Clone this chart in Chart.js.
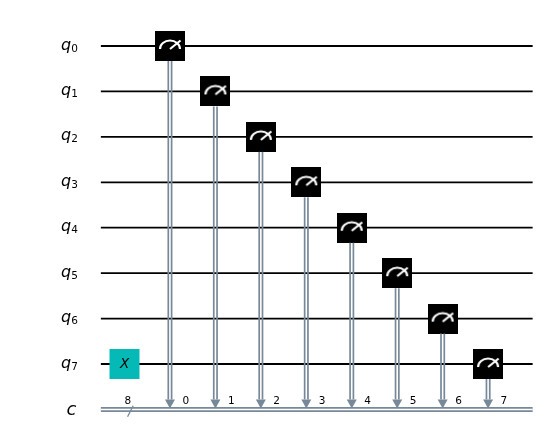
<!DOCTYPE html>
<html>
<head>
<meta charset="utf-8">
<script src="https://cdn.jsdelivr.net/npm/chart.js@4.4.1/dist/chart.umd.min.js"></script>
<style>
  html, body { margin: 0; padding: 0; background: #fff; }
  #wrap { width: 548px; height: 448px; }
</style>
</head>
<body>
<div id="wrap"><canvas id="circuit"></canvas></div>
<script>
// ---- circuit data ----
const QUBITS = ['0', '1', '2', '3', '4', '5', '6', '7'];   // q subscripts, one row each
const CREG_NAME = 'c';
const CREG_SIZE = 8;
const X_GATE_QUBITS = [7];
const X_GATE_COLUMNS = [0];
const MEASURE_QUBITS = [0, 1, 2, 3, 4, 5, 6, 7];
const MEASURE_COLUMNS = [1, 2, 3, 4, 5, 6, 7, 8];
const MEASURE_BITS = ['0', '1', '2', '3', '4', '5', '6', '7'];
const WIRE_SPAN = [-0.52, 8.98];          // first / last column the wires cover
const CREG_ROW = QUBITS.length;

// ---- style ----
const GRAY = '#778899';
const TEAL = '#05BAB6';
const BOX = 30;
const FONT = '"DejaVu Sans", sans-serif';

function $(id){ return document.getElementById(id); }

function meterIcon(){
  const cv = document.createElement('canvas');
  cv.width = BOX; cv.height = BOX;
  const g = cv.getContext('2d');
  g.fillStyle = '#000';
  g.fillRect(0, 0, BOX, BOX);
  g.strokeStyle = '#fff';
  g.lineWidth = 2.2;
  g.beginPath();
  g.ellipse(15, 18, 10, 8.5, 0, Math.PI, 2 * Math.PI);
  g.stroke();
  g.beginPath();
  g.moveTo(15, 18);
  g.lineTo(25.5, 9.5);
  g.stroke();
  return cv;
}

const datasets = [];

// quantum wires
QUBITS.forEach((q, i) => {
  datasets.push({
    data: [{x: WIRE_SPAN[0], y: i}, {x: WIRE_SPAN[1], y: i}],
    showLine: true, borderColor: '#000', borderWidth: 1.8,
    pointRadius: 0, order: 10
  });
});

// classical register: thick gray with white core = double line
datasets.push({
  data: [{x: WIRE_SPAN[0], y: CREG_ROW}, {x: WIRE_SPAN[1], y: CREG_ROW}],
  showLine: true, borderColor: GRAY, borderWidth: 5, pointRadius: 0, order: 9
});
datasets.push({
  data: [{x: WIRE_SPAN[0], y: CREG_ROW}, {x: WIRE_SPAN[1], y: CREG_ROW}],
  showLine: true, borderColor: '#fff', borderWidth: 1.6, pointRadius: 0, order: 8
});

// X gates
datasets.push({
  data: X_GATE_COLUMNS.map((c, i) => ({x: c, y: X_GATE_QUBITS[i]})),
  pointStyle: 'rect', pointRadius: BOX / Math.SQRT2, pointBorderWidth: 0,
  backgroundColor: TEAL, borderColor: TEAL, order: 1
});

// measurement boxes
datasets.push({
  data: MEASURE_COLUMNS.map((c, i) => ({x: c, y: MEASURE_QUBITS[i]})),
  pointStyle: meterIcon(), pointRadius: BOX / 2, order: 1
});

// connectors, arrows and all the text labels
const circuitDecor = {
  id: 'circuitDecor',
  afterDatasetsDraw(chart){
    const ctx = chart.ctx;
    const xs = chart.scales.x, ys = chart.scales.y;
    const cy = ys.getPixelForValue(CREG_ROW);
    const x0 = xs.getPixelForValue(WIRE_SPAN[0]);
    ctx.save();

    // measurement -> classical bit
    MEASURE_COLUMNS.forEach((c, i) => {
      const x = xs.getPixelForValue(c);
      const top = ys.getPixelForValue(MEASURE_QUBITS[i]) + BOX / 2;
      const base = cy - 10;
      ctx.strokeStyle = GRAY;
      ctx.lineWidth = 1.7;
      [-1.65, 1.65].forEach(dx => {
        ctx.beginPath();
        ctx.moveTo(x + dx, top);
        ctx.lineTo(x + dx, base);
        ctx.stroke();
      });
      ctx.fillStyle = GRAY;
      ctx.beginPath();
      ctx.moveTo(x - 5, base);
      ctx.lineTo(x + 5, base);
      ctx.lineTo(x, cy - 1);
      ctx.closePath();
      ctx.fill();

      ctx.fillStyle = '#000';
      ctx.font = '10.5px ' + FONT;
      ctx.textAlign = 'left';
      ctx.textBaseline = 'alphabetic';
      ctx.fillText(MEASURE_BITS[i], x + 12.5, cy - 5.5);
    });

    // register size marker
    ctx.strokeStyle = GRAY;
    ctx.lineWidth = 1.3;
    ctx.beginPath();
    ctx.moveTo(x0 + 26.7, cy + 7.3);
    ctx.lineTo(x0 + 32.3, cy - 3.7);
    ctx.stroke();
    ctx.fillStyle = '#000';
    ctx.font = '10.5px ' + FONT;
    ctx.textAlign = 'center';
    ctx.fillText(String(CREG_SIZE), x0 + 27, cy - 5.5);

    // X gate letters
    X_GATE_COLUMNS.forEach((c, i) => {
      ctx.font = 'italic 13.5px ' + FONT;
      ctx.textAlign = 'center';
      ctx.textBaseline = 'middle';
      ctx.fillText('X', xs.getPixelForValue(c), ys.getPixelForValue(X_GATE_QUBITS[i]) + 0.5);
    });

    // wire names, right aligned
    const right = x0 - 23;
    ctx.textBaseline = 'alphabetic';
    ctx.textAlign = 'left';
    QUBITS.forEach((q, i) => {
      const y = ys.getPixelForValue(i);
      ctx.font = '10.5px ' + FONT;
      const sw = ctx.measureText(q).width;
      ctx.font = 'italic 16px ' + FONT;
      const qw = ctx.measureText('q').width;
      ctx.fillText('q', right - sw - qw, y + 3.5);
      ctx.font = '10.5px ' + FONT;
      ctx.fillText(q, right - sw, y + 5.5);
    });
    ctx.font = 'italic 18px ' + FONT;
    ctx.textAlign = 'right';
    ctx.fillText(CREG_NAME, right - 1.5, cy + 6);

    ctx.restore();
  }
};

// one column = 45.45 px; first gate column sits at x = 124.5 px, q0 at y = 46 px
const COL = 45.45, ROW = 45.43;
new Chart($('circuit'), {
  type: 'scatter',
  data: { datasets },
  options: {
    responsive: true, maintainAspectRatio: false,
    animation: false, events: [],
    layout: { padding: 0, autoPadding: false },
    plugins: { legend: { display: false }, tooltip: { enabled: false } },
    elements: { line: { tension: 0 } },
    scales: {
      x: { type: 'linear', display: false, min: -124.5 / COL, max: (548 - 124.5) / COL },
      y: { type: 'linear', display: false, reverse: true, min: -46 / ROW, max: (448 - 46) / ROW }
    }
  },
  plugins: [circuitDecor]
});
</script>
</body>
</html>
